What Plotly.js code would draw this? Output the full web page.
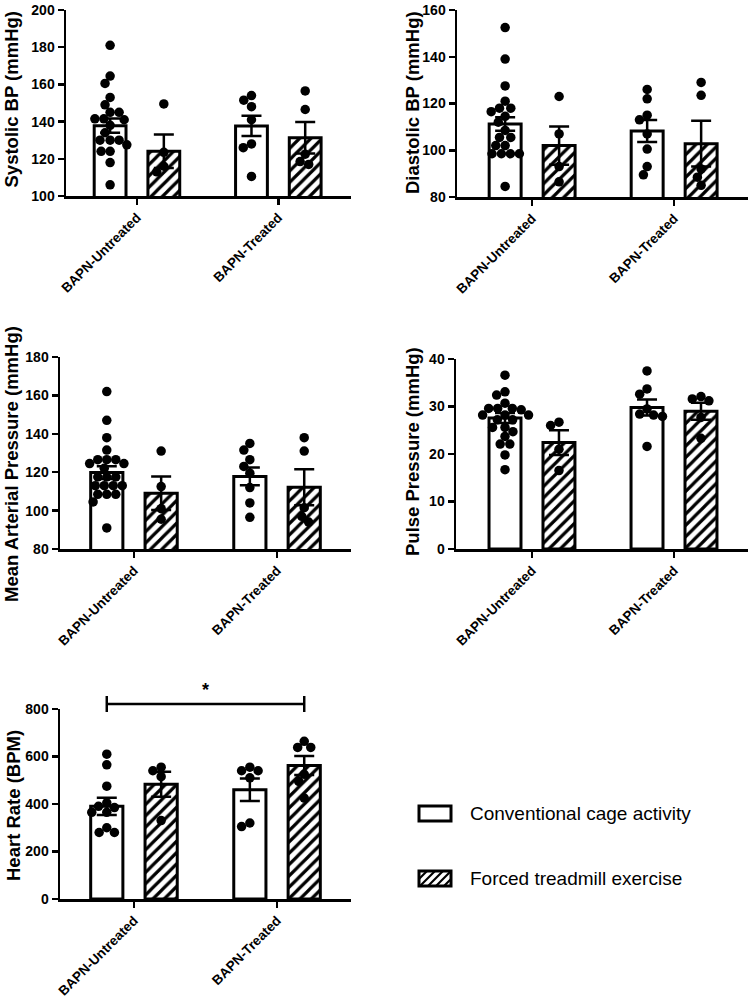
<!DOCTYPE html>
<html><head><meta charset="utf-8">
<script src="https://cdn.plot.ly/plotly-3.0.1.min.js"></script>
<style>html,body{margin:0;padding:0;background:#fff}#chart{width:750px;height:998px}</style>
</head><body><div id="chart"></div>
<script>
const categories = ['BAPN-Untreated', 'BAPN-Treated'];
const groupNames = ['Conventional cage activity', 'Forced treadmill exercise'];

// Systolic BP (mmHg)
const sbpMeanCage = [137.8, 137.7];
const sbpSemCage = [3.8, 5.5];
const sbpMeanEx = [124, 131.3];
const sbpSemEx = [9, 8.5];
const sbpUntreatedCage = [181, 164.5, 160.5, 153, 149, 145, 145, 141.5, 141.5, 141, 138, 134, 130, 130, 130, 127.5, 124, 124, 118, 106];
const sbpUntreatedEx = [149.5, 123.5, 116, 113];
const sbpTreatedCage = [154, 151.5, 148, 141, 128, 126, 110.5];
const sbpTreatedEx = [156.5, 146.5, 122.5, 118.5, 117];

// Diastolic BP (mmHg)
const dbpMeanCage = [111.2, 108.2];
const dbpSemCage = [2.9, 4.7];
const dbpMeanEx = [102, 102.8];
const dbpSemEx = [8.2, 9.8];
const dbpUntreatedCage = [152.5, 139, 127.5, 121, 118, 118, 116.5, 114.5, 112, 108.5, 105.5, 105.5, 102, 102, 98.5, 98.5, 98.5, 98.5, 84.5];
const dbpUntreatedEx = [123, 107, 93, 86.5];
const dbpTreatedCage = [126, 122, 115, 113, 107, 100.5, 93, 89.5];
const dbpTreatedEx = [129, 123.5, 92, 88.5, 85];

// Mean Arterial Pressure (mmHg)
const mapMeanCage = [119.8, 117.8];
const mapSemCage = [3.3, 4.6];
const mapMeanEx = [109, 112.2];
const mapSemEx = [8.7, 9.4];
const mapUntreatedCage = [162, 147, 138, 131.5, 126.5, 126.5, 126.5, 124.5, 124.5, 122, 117.5, 117.5, 117.5, 113, 113, 113, 113, 108.5, 108.5, 108.5, 104.5, 91];
const mapUntreatedEx = [131, 112.5, 101, 95.5];
const mapTreatedCage = [135, 131.5, 126.5, 123, 119.5, 112, 104, 96.5];
const mapTreatedEx = [138, 131, 101.5, 97, 94];

// Pulse Pressure (mmHg)
const ppMeanCage = [27.6, 29.8];
const ppSemCage = [1.05, 1.7];
const ppMeanEx = [22.4, 29];
const ppSemEx = [2.6, 1.8];
const ppUntreatedCage = [36.6, 33.1, 32.4, 30.7, 29.6, 29.6, 29.6, 29.3, 28.2, 28.2, 28.2, 27.2, 27.2, 25.6, 25.6, 24.7, 23.7, 22.1, 22.1, 19.8, 16.7];
const ppUntreatedEx = [26.7, 26, 21, 16.5];
const ppTreatedCage = [37.5, 33.7, 32.6, 29.5, 28.4, 28.2, 27.9, 21.6];
const ppTreatedEx = [32.1, 31.6, 31.2, 27.7, 23.3];

// Heart Rate (BPM)
const hrMeanCage = [390, 460];
const hrSemCage = [36, 47];
const hrMeanEx = [483, 562];
const hrSemEx = [53, 40];
const hrUntreatedCage = [610, 565, 475, 405, 390, 385, 365, 365, 300, 280, 280];
const hrUntreatedEx = [555, 540, 515, 330];
const hrTreatedCage = [555, 540, 540, 510, 320, 305];
const hrTreatedEx = [664, 638, 638, 525, 495, 425];

const FONT = 'Liberation Sans, Arial, Helvetica, sans-serif';
const W = 750, H = 998;
const fx = px => px / W;
const fy = py => 1 - py / H;

const panels = [
  {title: 'Systolic BP (mmHg)', box: [66, 351, 10, 196], xr: [-0.502, 1.514], yr: [100, 200], dtick: 20, titleX: 11.5, titleY: 100,
   means: [sbpMeanCage, sbpMeanEx], sems: [sbpSemCage, sbpSemEx],
   pts: [[sbpUntreatedCage, sbpTreatedCage], [sbpUntreatedEx, sbpTreatedEx]]},
  {title: 'Diastolic BP (mmHg)', box: [457, 748, 10, 197], xr: [-0.529, 1.52], yr: [80, 160], dtick: 20, titleX: 412, titleY: 103,
   means: [dbpMeanCage, dbpMeanEx], sems: [dbpSemCage, dbpSemEx],
   pts: [[dbpUntreatedCage, dbpTreatedCage], [dbpUntreatedEx, dbpTreatedEx]]},
  {title: 'Mean Arterial Pressure (mmHg)', box: [60, 351, 357, 549], xr: [-0.517, 1.517], yr: [80, 180], dtick: 20, titleX: 11, titleY: 464,
   means: [mapMeanCage, mapMeanEx], sems: [mapSemCage, mapSemEx],
   pts: [[mapUntreatedCage, mapTreatedCage], [mapUntreatedEx, mapTreatedEx]]},
  {title: 'Pulse Pressure (mmHg)', box: [456, 748, 359, 549], xr: [-0.535, 1.521], yr: [0, 40], dtick: 10, titleX: 412, titleY: 452,
   means: [ppMeanCage, ppMeanEx], sems: [ppSemCage, ppSemEx],
   pts: [[ppUntreatedCage, ppTreatedCage], [ppUntreatedEx, ppTreatedEx]]},
  {title: 'Heart Rate (BPM)', box: [60, 351, 709, 899], xr: [-0.517, 1.517], yr: [0, 800], dtick: 200, titleX: 13, titleY: 806,
   means: [hrMeanCage, hrMeanEx], sems: [hrSemCage, hrSemEx],
   pts: [[hrUntreatedCage, hrTreatedCage], [hrUntreatedEx, hrTreatedEx]]}
];

const GROUP_OFFSET = [-0.19, 0.19];
const BAR_WIDTH = 0.225;
const DOT = 9.5;

function swarm(values, pxPerUnit, D) {
  const placed = [];
  const out = new Array(values.length);
  const idx = values.map((v, i) => i).sort((a, b) => values[b] - values[a]);
  for (const i of idx) {
    const y = values[i] * pxPerUnit;
    const forb = [];
    for (const p of placed) {
      const dy = Math.abs(p.y - y);
      if (dy < D) { const h = Math.sqrt(D * D - dy * dy); forb.push([p.x - h, p.x + h]); }
    }
    const cands = [0];
    forb.forEach(f => cands.push(f[0], f[1]));
    cands.sort((a, b) => Math.abs(a) - Math.abs(b) || a - b);
    let x = 0;
    for (const c of cands) {
      if (forb.every(f => c <= f[0] + 1e-6 || c >= f[1] - 1e-6)) { x = c; break; }
    }
    placed.push({x, y});
    out[i] = x;
  }
  return out;
}

const traces = [];
const layout = {
  width: W, height: H, margin: {l: 0, r: 0, t: 0, b: 0},
  paper_bgcolor: 'white', plot_bgcolor: 'white', showlegend: false,
  barmode: 'overlay', font: {family: FONT, color: 'black'},
  annotations: [], shapes: []
};

panels.forEach((p, k) => {
  const ax = k === 0 ? '' : String(k + 1);
  const xa = 'x' + ax, ya = 'y' + ax;
  const pxX = (p.box[1] - p.box[0]) / (p.xr[1] - p.xr[0]);
  const pxY = (p.box[3] - p.box[2]) / (p.yr[1] - p.yr[0]);
  [0, 1].forEach(g => {
    const marker = {color: 'white', line: {color: 'black', width: 3}};
    if (g === 1) marker.pattern = {shape: '/', fgcolor: 'black', bgcolor: 'white', size: 8, solidity: 0.4, fillmode: 'replace'};
    traces.push({
      type: 'bar', name: groupNames[g], x: [0, 1].map(c => c + GROUP_OFFSET[g]), y: p.means[g],
      width: BAR_WIDTH, xaxis: xa, yaxis: ya, marker: marker, hoverinfo: 'skip',
      error_y: {type: 'data', array: p.sems[g], visible: true, color: 'black', thickness: 2.5, width: 10}
    });
  });
  [0, 1].forEach(g => {
    [0, 1].forEach(c => {
      const vals = p.pts[g][c];
      const offs = swarm(vals, pxY, 9).map(o => o / pxX);
      traces.push({
        type: 'scatter', mode: 'markers', xaxis: xa, yaxis: ya, cliponaxis: false, hoverinfo: 'skip',
        x: vals.map((v, i) => c + GROUP_OFFSET[g] + offs[i]), y: vals,
        marker: {size: DOT, color: 'black', line: {width: 0}}
      });
    });
  });
  layout['xaxis' + ax] = {
    domain: [fx(p.box[0]), fx(p.box[1])], anchor: ya, range: p.xr,
    tickmode: 'array', tickvals: [0, 1], ticktext: categories, tickangle: -45,
    ticks: 'outside', ticklen: 6, tickwidth: 2.5, tickcolor: 'black',
    showline: true, linewidth: 2.5, linecolor: 'black', showgrid: false, zeroline: false,
    tickfont: {family: FONT, size: 13.5, weight: 'bold', color: 'black'}, fixedrange: true,
    ticklabeloverflow: 'allow'
  };
  layout['yaxis' + ax] = {
    domain: [fy(p.box[3]), fy(p.box[2])], anchor: xa, range: p.yr,
    tickmode: 'linear', tick0: p.yr[0], dtick: p.dtick,
    ticks: 'outside', ticklen: 6, tickwidth: 2.5, tickcolor: 'black',
    showline: true, linewidth: 2.5, linecolor: 'black', showgrid: false, zeroline: false,
    tickfont: {family: FONT, size: 14, weight: 'bold', color: 'black'}, fixedrange: true,
    ticklabeloverflow: 'allow'
  };
  layout.annotations.push({
    text: p.title, textangle: -90, xref: 'paper', yref: 'paper',
    x: fx(p.titleX), y: fy(p.titleY), xanchor: 'center', yanchor: 'middle',
    showarrow: false, font: {family: FONT, size: 18.5, weight: 'bold', color: 'black'}
  });
});

// significance bracket on heart rate panel
const hrLeft = 0 + GROUP_OFFSET[0], hrRight = 1 + GROUP_OFFSET[1];
layout.shapes.push(
  {type: 'line', xref: 'x5', yref: 'paper', x0: hrLeft, x1: hrRight, y0: fy(704), y1: fy(704), line: {color: 'black', width: 2.5}},
  {type: 'line', xref: 'x5', yref: 'paper', x0: hrLeft, x1: hrLeft, y0: fy(696), y1: fy(712), line: {color: 'black', width: 2.5}},
  {type: 'line', xref: 'x5', yref: 'paper', x0: hrRight, x1: hrRight, y0: fy(696), y1: fy(712), line: {color: 'black', width: 2.5}}
);
layout.annotations.push({
  text: '*', xref: 'x5', yref: 'paper', x: 0.5, y: fy(690), xanchor: 'center', yanchor: 'middle',
  showarrow: false, font: {family: FONT, size: 18, weight: 'bold', color: 'black'}
});

// legend (drawn manually)
const legendItems = [{y0: 806, y1: 821, hatch: false}, {y0: 871, y1: 886, hatch: true}];
legendItems.forEach((it, i) => {
  const x0 = 419, x1 = 451;
  if (it.hatch) {
    const step = 8;
    for (let c = x0 + it.y0; c <= x1 + it.y1; c += step) {
      const xa = Math.max(x0, c - it.y1), xb = Math.min(x1, c - it.y0);
      if (xb - xa > 0.5) {
        layout.shapes.push({type: 'line', xref: 'paper', yref: 'paper', x0: fx(xa), y0: fy(c - xa), x1: fx(xb), y1: fy(c - xb), line: {color: 'black', width: 2.2}});
      }
    }
  }
  layout.shapes.push({type: 'rect', xref: 'paper', yref: 'paper', x0: fx(x0), x1: fx(x1), y0: fy(it.y1), y1: fy(it.y0), line: {color: 'black', width: 3}, fillcolor: 'rgba(0,0,0,0)'});
  layout.annotations.push({
    text: groupNames[i], xref: 'paper', yref: 'paper', x: fx(468), y: fy((it.y0 + it.y1) / 2),
    xanchor: 'left', yanchor: 'middle', showarrow: false, font: {family: FONT, size: 19, color: 'black'}
  });
});

Plotly.newPlot('chart', traces, layout, {staticPlot: true, displayModeBar: false});
</script>
</body></html>
